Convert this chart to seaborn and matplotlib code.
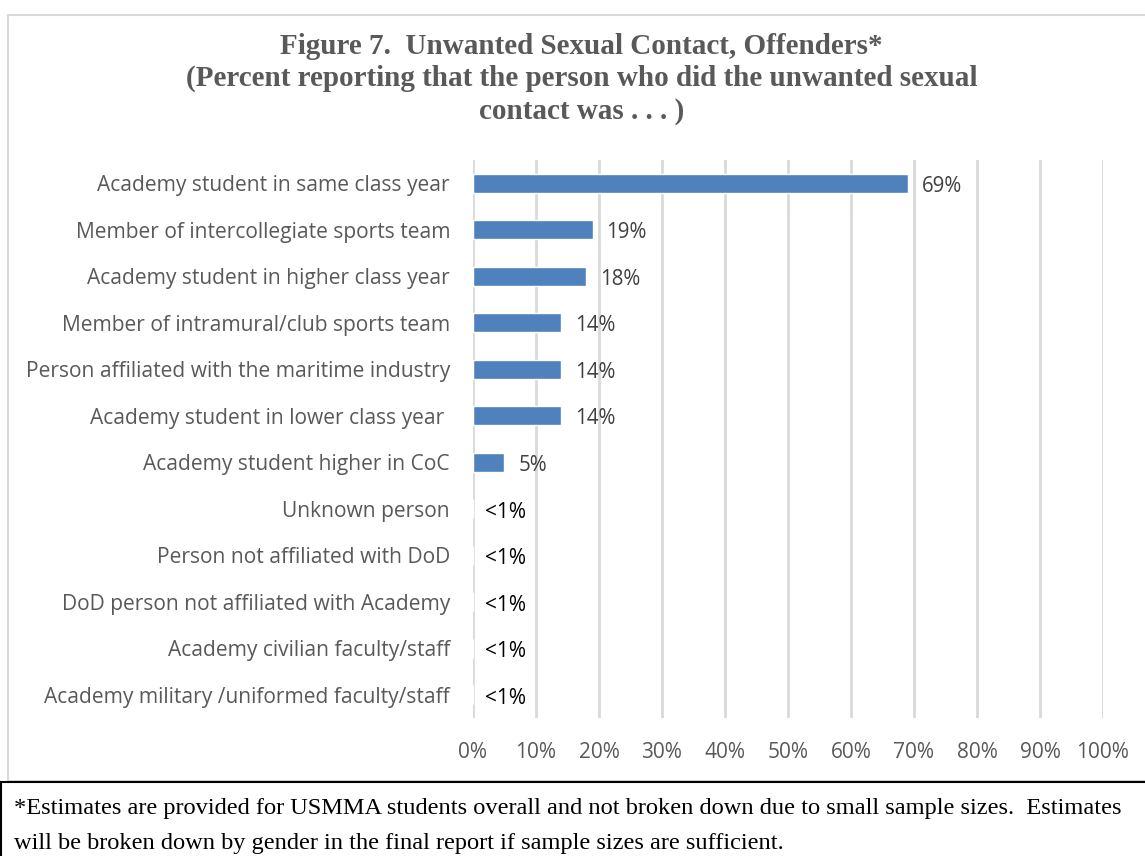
import pandas as pd
import matplotlib.pyplot as plt
import seaborn as sns
from matplotlib.patches import Rectangle

# Data
categories = [
    "Academy student in same class year",
    "Member of intercollegiate sports team",
    "Academy student in higher class year",
    "Member of intramural/club sports team",
    "Person affiliated with the maritime industry",
    "Academy student in lower class year ",
    "Academy student higher in CoC",
    "Unknown person",
    "Person not affiliated with DoD",
    "DoD person not affiliated with Academy",
    "Academy civilian faculty/staff",
    "Academy military /uniformed faculty/staff",
]
values = [69, 19, 18, 14, 14, 14, 5, 0, 0, 0, 0, 0]
value_labels = ["69%", "19%", "18%", "14%", "14%", "14%", "5%",
                "<1%", "<1%", "<1%", "<1%", "<1%"]
x_ticks = [0, 10, 20, 30, 40, 50, 60, 70, 80, 90, 100]

df = pd.DataFrame({"Offender": categories, "Percent": values})

sns.set_theme(style="white")
plt.rcParams['font.family'] = ['Open Sans', 'DejaVu Sans']

fig = plt.figure(figsize=(11.45, 8.56), dpi=100)
ax = fig.add_axes([0.4131, 0.1612, 0.5502, 0.6519])

sns.barplot(data=df, x="Percent", y="Offender", color="#4F81BD",
            width=0.4, saturation=1, ax=ax, zorder=3)

ax.set_xlim(0, 100)
ax.set_xticks(x_ticks)
ax.set_xticklabels([f"{t}%" for t in x_ticks])
ax.grid(axis="x", color="#D9D9D9", linewidth=2, zorder=0)
ax.grid(axis="y", visible=False)
for s in ax.spines.values():
    s.set_visible(False)
ax.tick_params(axis="x", length=0, pad=17, labelsize=15, labelcolor="#595959")
ax.tick_params(axis="y", length=0, pad=16.5, labelsize=15.1, labelcolor="#595959")
ax.set_xlabel("")
ax.set_ylabel("")

# data labels
for i, (v, lab) in enumerate(zip(values, value_labels)):
    if lab == "<1%":
        ax.text(v + 1.9, i + 0.08, lab, va="center", ha="left",
                fontsize=15, color="black")
    else:
        ax.text(v + 2.2, i + 0.06, lab, va="center", ha="left",
                fontsize=14.8, color="#404040")

# title
title_lines = ["Figure 7.  Unwanted Sexual Contact, Offenders*",
               "(Percent reporting that the person who did the unwanted sexual",
               "contact was . . . )"]
for k, line in enumerate(title_lines):
    fig.text(0.508, 0.946 - k * 0.038, line, ha="center", va="center",
             fontsize=21, fontweight="bold", family="Liberation Serif",
             color="#595959")

# chart frame
fig.patches.append(Rectangle((0.007, 0.088), 1.0, 0.895, transform=fig.transFigure,
                             fill=False, edgecolor="#D9D9D9", linewidth=1.5))
# footnote box
fig.patches.append(Rectangle((0.001, -0.01), 1.0, 0.097, transform=fig.transFigure,
                             fill=False, edgecolor="black", linewidth=1.5))
fig.text(0.012, 0.055, "*Estimates are provided for USMMA students overall and not broken "
         "down due to small sample sizes.  Estimates",
         ha="left", va="center", fontsize=17.6, family="Liberation Serif", color="black")
fig.text(0.012, 0.015, "will be broken down by gender in the final report if sample sizes "
         "are sufficient.",
         ha="left", va="center", fontsize=17.6, family="Liberation Serif", color="black")

fig.savefig("out.png", dpi=100)
